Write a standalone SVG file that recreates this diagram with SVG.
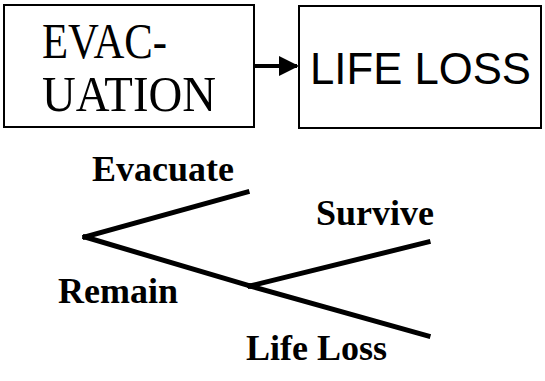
<svg xmlns="http://www.w3.org/2000/svg" width="545" height="381" viewBox="0 0 545 381">
  <style>
    .box { fill: #ffffff; stroke: #000000; stroke-width: 2; }
    .serif { font-family: "Liberation Serif", "Times New Roman", serif; fill: #000000; }
    .sans { font-family: "Liberation Sans", Arial, sans-serif; fill: #000000; }
    .big { font-size: 50px; }
    .big-sans { font-size: 45px; }
    .label { font-size: 36px; font-weight: bold; }
    .branch { stroke: #000000; stroke-width: 5; stroke-linecap: square; fill: none; }
  </style>
  <defs>
    <marker id="head" markerWidth="5" markerHeight="5" refX="4.5" refY="2.5" orient="auto" markerUnits="strokeWidth">
      <path d="M0,0 L5,2.5 L0,5 Z" fill="#000000"/>
    </marker>
  </defs>
  <rect width="545" height="381" fill="#ffffff"/>

  <g id="evacuation">
    <rect class="box" x="4" y="5" width="250" height="122"/>
    <text class="serif big" x="42" y="58" textLength="125" lengthAdjust="spacingAndGlyphs">EVAC-</text>
    <text class="serif big" x="42" y="111" textLength="174" lengthAdjust="spacingAndGlyphs">UATION</text>
  </g>

  <g id="life-loss">
    <rect class="box" x="299" y="6" width="242" height="122"/>
    <text class="sans big-sans" x="310" y="84" textLength="221" lengthAdjust="spacingAndGlyphs">LIFE LOSS</text>
  </g>

  <g id="connectors">
    <line x1="255" y1="66" x2="297" y2="66" stroke="#000000" stroke-width="4" marker-end="url(#head)"/>
  </g>

  <g id="event-tree">
    <g class="branch">
      <line x1="85" y1="237" x2="247" y2="192"/>
      <line x1="85" y1="237" x2="250" y2="286"/>
      <line x1="250" y1="286" x2="428" y2="242"/>
      <line x1="250" y1="286" x2="428" y2="336"/>
    </g>
    <text class="serif label" x="92" y="181">Evacuate</text>
    <text class="serif label" x="316" y="225">Survive</text>
    <text class="serif label" x="58" y="303">Remain</text>
    <text class="serif label" x="246" y="360">Life Loss</text>
  </g>
</svg>
